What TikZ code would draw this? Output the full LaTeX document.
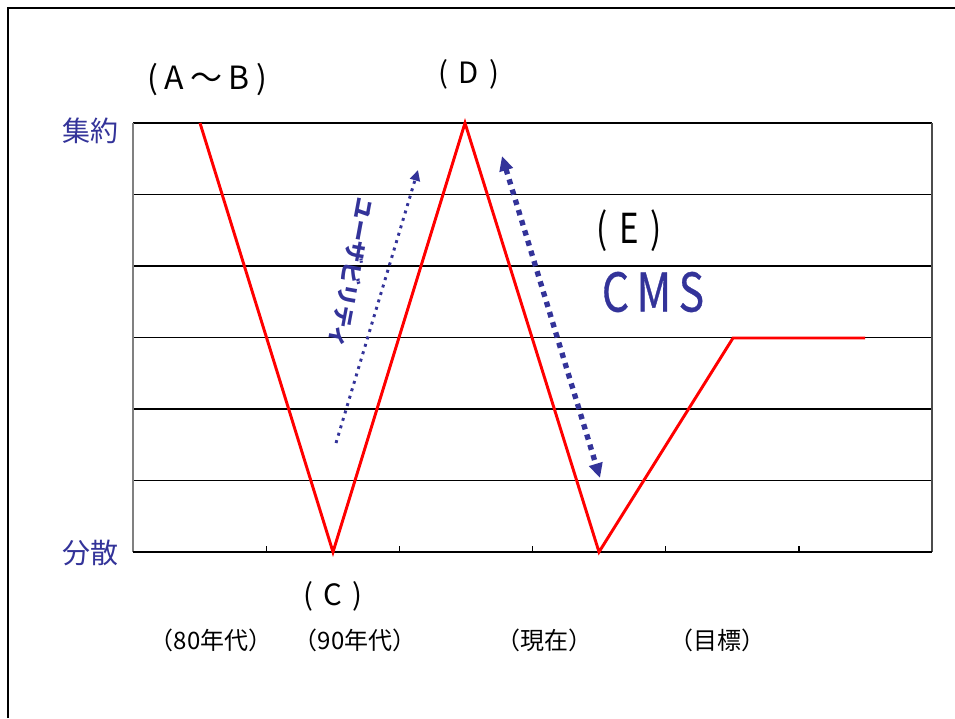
\documentclass[tikz,border=0pt]{standalone}
\usepackage{fontspec}
\usepackage{xcolor}
\usetikzlibrary{arrows.meta, positioning, calc}
\setmainfont{Noto Sans CJK JP}
\newfontfamily\jpspaced[LetterSpace=35]{Noto Sans CJK JP}
\newfontfamily\jptight[LetterSpace=20]{Noto Sans CJK JP}
\newfontfamily\jpnarrow[FakeStretch=0.8, LetterSpace=28]{Noto Sans CJK JP}
\newfontfamily\jpwide[FakeStretch=0.8, LetterSpace=14, FakeBold=0.6]{Noto Sans CJK JP}
\definecolor{cmsblue}{RGB}{51, 51, 153}
\definecolor{trendred}{RGB}{255, 0, 0}

\begin{document}
\begin{tikzpicture}[
			x=0.75pt, y=-0.75pt,
			gridline/.style={black, line width=1.1pt},
			frameline/.style={black, line width=2.2pt},
			trend/.style={trendred, line width=2.2pt},
			tag/.style={font=\jpspaced\fontsize{22pt}{22pt}\selectfont, inner sep=0pt},
			axislabel/.style={font=\fontsize{21pt}{21pt}\selectfont, text=cmsblue, inner sep=0pt},
			period/.style={font=\fontsize{18pt}{18pt}\selectfont, inner sep=0pt},
			usearrow/.style={cmsblue, line width=2.2pt, dash pattern=on 2.2pt off 3.6pt, -{Triangle[length=8pt, width=7.5pt]}},
			cmsarrow/.style={cmsblue, line width=4pt, dash pattern=on 4pt off 4pt, {Triangle[length=11pt, width=10pt]}-{Triangle[length=11pt, width=10pt]}}
		]
		\useasboundingbox (0,0) rectangle (955,718);
		\draw[frameline] (8,718) -- (8,8) -- (955,8);
		
		\foreach \i in {0,...,6}
			\draw[gridline] (133,{123+71.5*\i}) -- (932,{123+71.5*\i});
		\draw[gray, line width=1.5pt] (133,123) -- (133,552);
		\draw[black!70, line width=1.5pt] (932,123) -- (932,552);
		\draw[black, line width=1.5pt] (133,552) -- (932,552);
		\foreach \i in {1,...,5}
			\draw[black, line width=1pt] ({133+133.17*\i},552) -- ({133+133.17*\i},546);
		
		\coordinate (pA) at (200,123);
		\coordinate (pC) at (333,552);
		\coordinate (pD) at (465,123);
		\coordinate (pE) at (599,552);
		\coordinate (pF) at (733,338);
		\coordinate (pG) at (865,338);
		\draw[trend] (pA) -- (pC) -- (pD) -- (pE) -- (pF) -- (pG);
		
		\coordinate (useTail) at (336,443);
		\coordinate (useTip) at (418,170);
		\draw[usearrow] (useTail) -- (useTip);
		\coordinate (cmsTop) at (502,156);
		\coordinate (cmsBottom) at (600,478);
		\draw[cmsarrow] (cmsTop) -- (cmsBottom);
		
		\node[tag, font=\jptight\fontsize{24pt}{24pt}\selectfont] (tagAB) at (207,80) {(A～B)};
		\node[tag] (tagD) at (469,74) {(D)};
		\node[tag] (tagC) at (333,596) {(C)};
		\node[tag, font=\jpnarrow\fontsize{31pt}{31pt}\selectfont] (tagE) at (629,231) {(E)};
		\node[tag, font=\jpwide\fontsize{40pt}{40pt}\selectfont, text=cmsblue] (cms) at (653,292) {CMS};
		\node[font=\bfseries\fontsize{16.5pt}{16.5pt}\selectfont, text=cmsblue, rotate=-100.5, inner sep=0pt] (usability) at (352,273) {ユーザビリティ};
		
		\node[axislabel] (high) at (90,131) {集約};
		\node[axislabel] (low) at (90,553) {分散};
		
		\node[period] (p80) at (211,640) {（80年代）};
		\node[period] (p90) at (355,640) {（90年代）};
		\node[period] (pnow) at (544,640) {（現在）};
		\node[period] (pgoal) at (717,640) {（目標）};
		\end{tikzpicture}
\end{document}
